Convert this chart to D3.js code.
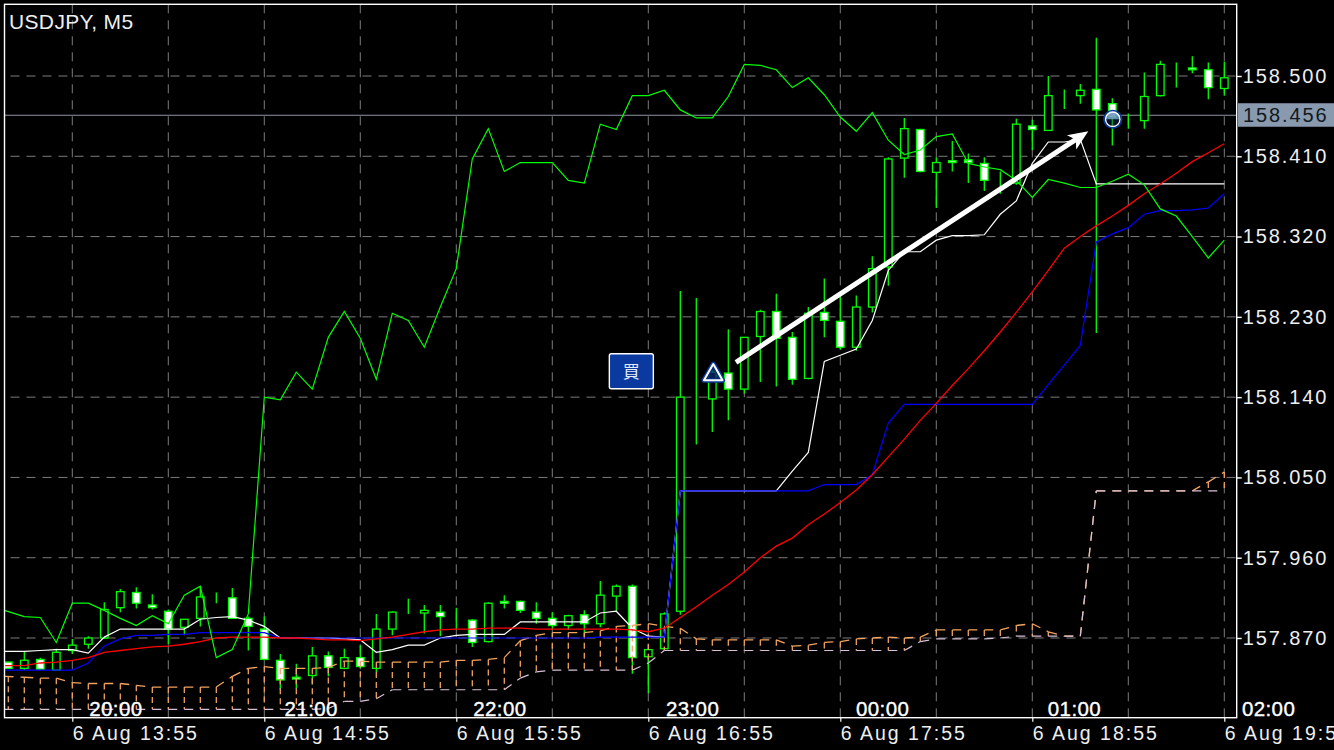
<!DOCTYPE html>
<html>
<head>
<meta charset="utf-8">
<script src="https://cdn.jsdelivr.net/npm/d3@7"></script>
<style>
html,body{margin:0;padding:0;background:#000;overflow:hidden}
svg{display:block}
text{font-family:"Liberation Sans",Arial,sans-serif}
</style>
</head>
<body>
<svg id="chart" width="1334" height="750"></svg>
<script>
const title = "USDJPY, M5";
const buyLabel = "買";
const lastPrice = 158.456;

const yTicks = [157.87,157.96,158.05,158.14,158.23,158.32,158.41,158.5];
const xGridIdx = [4,10,16,22,28,34,40,46,52,58,64,70,76];
const xTickIdx = [4,16,28,40,52,64,76];
const xTickLabels = ["6 Aug 13:55","6 Aug 14:55","6 Aug 15:55","6 Aug 16:55","6 Aug 17:55","6 Aug 18:55","6 Aug 19:55"];
const hourLabels = ["20:00","21:00","22:00","23:00","00:00","01:00","02:00"];
const hourIdx = [5.06,17.27,29.06,41.1,52.98,64.97,77.1];

const open = [157.843,157.836,157.846,157.834,157.856,157.863,157.870,157.904,157.921,157.907,157.900,157.882,157.892,157.914,157.915,157.892,157.880,157.845,157.826,157.828,157.850,157.836,157.848,157.836,157.880,157.898,157.898,157.899,157.893,157.890,157.866,157.911,157.911,157.899,157.892,157.884,157.896,157.886,157.917,157.928,157.849,157.858,157.900,158.137,158.138,158.167,158.149,158.208,158.236,158.207,158.161,158.235,158.225,158.196,158.241,158.286,158.408,158.440,158.392,158.405,158.406,158.402,158.380,158.380,158.444,158.439,158.478,158.478,158.485,158.469,158.453,158.450,158.478,158.512,158.509,158.507,158.486];
const high = [157.843,157.855,157.848,157.858,157.869,157.872,157.910,157.925,157.927,157.919,157.902,157.891,157.928,157.921,157.926,157.894,157.894,157.852,157.841,157.860,157.855,157.858,157.862,157.897,157.900,157.914,157.907,157.907,157.904,157.891,157.910,157.918,157.912,157.910,157.899,157.896,157.901,157.934,157.930,157.930,157.858,157.899,158.259,158.251,158.176,158.216,158.207,158.238,158.256,158.213,158.241,158.273,158.253,158.254,158.298,158.409,158.453,158.441,158.409,158.427,158.413,158.409,158.393,158.452,158.451,158.500,158.485,158.491,158.543,158.475,158.458,158.504,158.517,158.515,158.522,158.515,158.516];
const low = [157.836,157.834,157.834,157.834,157.852,157.858,157.869,157.899,157.903,157.902,157.863,157.873,157.883,157.909,157.892,157.856,157.845,157.812,157.813,157.818,157.827,157.835,157.836,157.832,157.873,157.897,157.875,157.872,157.879,157.860,157.865,157.903,157.898,157.886,157.879,157.879,157.871,157.882,157.900,157.830,157.808,157.857,157.896,158.087,158.101,158.114,158.144,158.157,158.152,158.154,158.160,158.207,158.193,158.192,158.235,158.265,158.386,158.392,158.352,158.393,158.380,158.371,158.368,158.378,158.417,158.439,158.463,158.469,158.212,158.422,158.441,158.441,158.477,158.487,158.503,158.474,158.478];
const close = [157.836,157.845,157.835,157.854,157.862,157.870,157.902,157.922,157.909,157.904,157.880,157.891,157.916,157.914,157.892,157.883,157.846,157.823,157.824,157.850,157.837,157.848,157.838,157.880,157.899,157.898,157.901,157.894,157.893,157.865,157.909,157.909,157.901,157.892,157.884,157.895,157.886,157.918,157.928,157.848,157.857,157.897,158.140,158.137,158.168,158.149,158.207,158.236,158.206,158.160,158.234,158.226,158.196,158.241,158.284,158.407,158.441,158.393,158.403,158.403,158.403,158.383,158.380,158.446,158.440,158.478,158.478,158.484,158.462,158.453,158.453,158.477,158.513,158.512,158.507,158.487,158.498];

const chikou = [157.901,157.894,157.893,157.865,157.909,157.909,157.901,157.892,157.884,157.895,157.886,157.918,157.928,157.848,157.857,157.897,158.140,158.137,158.168,158.149,158.207,158.236,158.206,158.160,158.234,158.226,158.196,158.241,158.284,158.407,158.441,158.393,158.403,158.403,158.403,158.383,158.380,158.446,158.440,158.478,158.478,158.484,158.462,158.453,158.453,158.477,158.513,158.512,158.507,158.487,158.498,158.479,158.454,158.438,158.459,158.428,158.412,158.417,158.432,158.435,158.402,158.398,158.395,158.383,158.364,158.384,158.380,158.375,158.375,158.382,158.390,158.378,158.351,158.343,158.320,158.296,158.316];
const tenkan = [157.855,157.855,157.856,157.857,157.857,157.853,157.871,157.880,157.880,157.880,157.880,157.880,157.891,157.893,157.894,157.890,157.883,157.870,157.870,157.870,157.870,157.869,157.868,157.854,157.857,157.862,157.862,157.870,157.873,157.874,157.874,157.874,157.888,157.888,157.888,157.888,157.888,157.898,157.900,157.881,157.872,157.871,158.035,158.035,158.035,158.035,158.035,158.035,158.035,158.057,158.078,158.180,158.187,158.194,158.226,158.282,158.303,158.303,158.316,158.321,158.321,158.322,158.345,158.360,158.402,158.426,158.426,158.429,158.379,158.379,158.379,158.379,158.379,158.379,158.379,158.379,158.379];
const kijun = [157.834,157.834,157.834,157.834,157.834,157.842,157.861,157.869,157.873,157.873,157.874,157.874,157.876,157.876,157.876,157.876,157.876,157.870,157.870,157.870,157.870,157.870,157.870,157.870,157.870,157.870,157.870,157.870,157.870,157.870,157.870,157.870,157.870,157.870,157.870,157.870,157.870,157.871,157.871,157.871,157.871,157.871,158.035,158.035,158.035,158.035,158.035,158.035,158.035,158.035,158.035,158.042,158.042,158.042,158.053,158.111,158.132,158.132,158.132,158.132,158.132,158.132,158.132,158.132,158.132,158.154,158.176,158.198,158.314,158.323,158.330,158.345,158.349,158.349,158.350,158.352,158.368];
const movingAvg = [157.839,157.839,157.842,157.843,157.845,157.848,157.854,157.856,157.858,157.860,157.861,157.863,157.866,157.870,157.871,157.871,157.871,157.870,157.870,157.869,157.868,157.868,157.867,157.869,157.871,157.874,157.877,157.879,157.880,157.880,157.881,157.881,157.881,157.880,157.880,157.880,157.880,157.880,157.880,157.879,157.877,157.881,157.893,157.905,157.918,157.930,157.944,157.960,157.973,157.982,157.997,158.009,158.022,158.036,158.053,158.073,158.093,158.114,158.133,158.153,158.172,158.192,158.213,158.235,158.258,158.282,158.307,158.320,158.332,158.343,158.355,158.368,158.379,158.391,158.404,158.414,158.424];
const spanA = [157.827,157.826,157.825,157.825,157.820,157.819,157.819,157.819,157.817,157.815,157.815,157.815,157.815,157.815,157.827,157.836,157.838,157.836,157.836,157.836,157.837,157.844,157.844,157.843,157.843,157.843,157.843,157.843,157.845,157.845,157.846,157.848,157.867,157.873,157.876,157.876,157.876,157.878,157.883,157.884,157.886,157.883,157.881,157.869,157.868,157.868,157.868,157.868,157.868,157.861,157.862,157.865,157.866,157.869,157.870,157.871,157.870,157.871,157.879,157.879,157.879,157.879,157.879,157.884,157.886,157.877,157.872,157.872,158.035,158.035,158.035,158.035,158.035,158.035,158.035,158.045,158.056];
const spanB = [157.790,157.790,157.790,157.790,157.790,157.790,157.790,157.790,157.790,157.790,157.790,157.790,157.790,157.790,157.790,157.790,157.790,157.790,157.790,157.790,157.791,157.799,157.799,157.802,157.812,157.812,157.812,157.812,157.812,157.812,157.812,157.812,157.825,157.832,157.834,157.834,157.834,157.834,157.834,157.834,157.842,157.856,157.856,157.856,157.856,157.856,157.856,157.856,157.856,157.856,157.856,157.856,157.856,157.856,157.856,157.856,157.856,157.866,157.869,157.869,157.869,157.869,157.870,157.872,157.872,157.872,157.872,157.872,158.035,158.035,158.035,158.035,158.035,158.035,158.035,158.035,158.035];

const arrowFrom = {i:45.48, p:158.179};
const arrowTo = {i:67.5, p:158.438};
const entryMark = {i:44.06, p:158.165};
const exitMark = {i:69.03, p:158.4515};
const buyBadge = {i:38.94, p:158.169};

const COL = {bg:"#000", frame:"#ffffff", grid:"#7c7c7c", candle:"#00ff00", bearFill:"#ffffff", chikou:"#00ff00", tenkan:"#ffffff", kijun:"#0000ff", ma:"#ff0000", spanA:"#f4a460", spanB:"#d8bfd8", last:"#8d95a3", lastBox:"#8a9aae", text:"#efefef"};
const F = {left:4.5, top:4.3, right:1236.7, bottom:717.7};

const x = d3.scaleLinear().domain([0,76]).range([8.3,1224.3]);
const y = d3.scaleLinear().domain([157.87,158.5]).range([638,76]);

const svg = d3.select("#chart");
svg.append("rect").attr("width",1334).attr("height",750).attr("fill",COL.bg);
const defs = svg.append("defs");
defs.append("clipPath").attr("id","plot").append("rect")
  .attr("x",F.left).attr("y",F.top).attr("width",F.right-F.left).attr("height",F.bottom-F.top);
const plot = svg.append("g").attr("clip-path","url(#plot)");

// grid
plot.append("g").selectAll("line").data(yTicks).join("line")
  .attr("x1",F.left+6).attr("x2",F.right).attr("y1",d=>y(d)).attr("y2",d=>y(d))
  .attr("stroke",COL.grid).attr("stroke-dasharray","9,7");
plot.append("g").selectAll("line").data(xGridIdx).join("line")
  .attr("x1",d=>x(d)).attr("x2",d=>x(d)).attr("y1",F.top).attr("y2",F.bottom)
  .attr("stroke",COL.grid).attr("stroke-dasharray","9,7");

// last price line
plot.append("line").attr("x1",F.left).attr("x2",F.right).attr("y1",y(lastPrice)).attr("y2",y(lastPrice))
  .attr("stroke",COL.last).attr("stroke-width",1);

// candles
const idx = d3.range(open.length);
const cg = plot.append("g");
cg.selectAll("line").data(idx).join("line")
  .attr("x1",i=>x(i)).attr("x2",i=>x(i)).attr("y1",i=>y(high[i])).attr("y2",i=>y(low[i]))
  .attr("stroke",COL.candle).attr("stroke-width",1.3);
cg.selectAll("rect").data(idx).join("rect")
  .attr("x",i=>x(i)-3.8).attr("width",7.6)
  .attr("y",i=>y(Math.max(open[i],close[i])))
  .attr("height",i=>Math.abs(y(open[i])-y(close[i])))
  .attr("fill",i=>close[i]<open[i]?COL.bearFill:"#000")
  .attr("stroke",COL.candle).attr("stroke-width",1.3);

// cloud hatching
plot.append("g").selectAll("line").data(idx.filter(i=>spanA[i]!==spanB[i])).join("line")
  .attr("x1",i=>x(i)).attr("x2",i=>x(i)).attr("y1",i=>y(spanA[i])).attr("y2",i=>y(spanB[i]))
  .attr("stroke",COL.spanA).attr("stroke-width",1.3).attr("stroke-dasharray","6,4");

// lines
const line = d3.line().x((d,i)=>x(i===0?-0.24:i)).y(d=>y(d));
const addLine = (vals,color,w)=>plot.append("path").attr("d",line(vals)).attr("fill","none")
  .attr("stroke",color).attr("stroke-width",w);
// dashed spans: each bar-to-bar segment restarts the dash, so overlapping spans stay in phase
const addSegments = (vals,color,w)=>plot.append("g").selectAll("line").data(d3.pairs(idx)).join("line")
  .attr("x1",d=>x(d[0]===0?-0.24:d[0])).attr("x2",d=>x(d[1]))
  .attr("y1",d=>y(vals[d[0]])).attr("y2",d=>y(vals[d[1]]))
  .attr("stroke",color).attr("stroke-width",w).attr("stroke-dasharray","9,7");
addSegments(spanA,COL.spanA,1.3);
addSegments(spanB,COL.spanB,1.2);
addLine(tenkan,COL.tenkan,1.2);
addLine(kijun,COL.kijun,1.2);
addLine(movingAvg,COL.ma,1.3);
addLine(chikou,COL.chikou,1.2);

// hour labels inside the plot
svg.append("g").selectAll("text").data(hourLabels).join("text")
  .attr("x",(d,i)=>x(hourIdx[i])).attr("y",715.5)
  .attr("font-size",20.5).attr("letter-spacing",0.4)
  .attr("fill","#fff").attr("stroke","#fff").attr("stroke-width",0.35)
  .text(d=>d);

// arrow annotation
const ax0=x(arrowFrom.i), ay0=y(arrowFrom.p), ax1=x(arrowTo.i), ay1=y(arrowTo.p);
const ang=Math.atan2(ay1-ay0,ax1-ax0), deg=ang*180/Math.PI;
const len=Math.hypot(ax1-ax0,ay1-ay0);
const ag=svg.append("g").attr("transform",`translate(${ax0},${ay0}) rotate(${deg})`);
ag.append("line").attr("x1",0).attr("y1",0).attr("x2",len-12).attr("y2",0).attr("stroke","#fff").attr("stroke-width",5);
ag.append("path").attr("d",d3.line()([[len,0],[len-20,-8.5],[len-15,0],[len-20,8.5]])+"Z").attr("fill","#fff");

// entry triangle
const tri=d3.symbol(d3.symbolTriangle,150);
const tg=svg.append("g").attr("transform",`translate(${x(entryMark.i)},${y(entryMark.p)})`);
tg.append("path").attr("d",tri()).attr("fill","none").attr("stroke","#0a3a9e").attr("stroke-width",5).attr("stroke-linejoin","round");
tg.append("path").attr("d",tri()).attr("fill","rgba(10,40,110,.75)").attr("stroke","#fff").attr("stroke-width",2).attr("stroke-linejoin","round");

// exit circle
const cgx=svg.append("g").attr("transform",`translate(${x(exitMark.i)},${y(exitMark.p)})`);
cgx.append("circle").attr("r",7.3).attr("fill","rgba(10,40,90,.45)");
cgx.append("path").attr("d",d3.arc()({innerRadius:0,outerRadius:7.3,startAngle:-Math.PI/2,endAngle:Math.PI/2})).attr("fill","rgba(120,160,205,.8)");
cgx.append("circle").attr("r",7.3).attr("fill","none").attr("stroke","#fff").attr("stroke-width",1.5);
cgx.append("circle").attr("r",8.8).attr("fill","none").attr("stroke","#0a3a9e").attr("stroke-width",1.6);

// buy badge
const bb=svg.append("g").attr("transform",`translate(${x(buyBadge.i)},${y(buyBadge.p)})`);
bb.append("rect").attr("x",-22).attr("y",-17.5).attr("width",44).attr("height",35).attr("rx",2)
  .attr("fill","#0a399f").attr("stroke","#fff").attr("stroke-width",1.4);
bb.append("text").attr("text-anchor","middle").attr("y",6.5).attr("font-size",17)
  .style("font-family",'"Noto Sans CJK JP"').attr("fill","#e4eaf6").text(buyLabel);

// frame
svg.append("rect").attr("x",F.left).attr("y",F.top).attr("width",F.right-F.left).attr("height",F.bottom-F.top)
  .attr("fill","none").attr("stroke",COL.frame).attr("stroke-width",1.4);

// axes
const yAxis=d3.axisRight(y).tickValues(yTicks).tickFormat(d3.format(".3f")).tickSize(5).tickPadding(1);
const ya=svg.append("g").attr("transform",`translate(${F.right},0)`).call(yAxis);
ya.select(".domain").remove();
ya.selectAll("line").attr("stroke","#fff").attr("stroke-width",1.4);
ya.selectAll("text").attr("font-size",20).attr("letter-spacing",1.9).attr("fill",COL.text)
  .style("font-family",'"Liberation Sans"');

const xAxis=d3.axisBottom(x).tickValues(xTickIdx).tickFormat((d,i)=>xTickLabels[i]).tickSize(4);
const xa=svg.append("g").attr("transform",`translate(0,${F.bottom})`).call(xAxis);
xa.select(".domain").remove();
xa.selectAll("line").attr("stroke","#fff").attr("stroke-width",1.2);
xa.selectAll("text").attr("font-size",19.5).attr("letter-spacing",2).attr("fill",COL.text)
  .attr("text-anchor","start").attr("y",22.3).attr("dy",0)
  .style("font-family",'"Liberation Sans"');

// last price box
const lg=svg.append("g");
lg.append("rect").attr("x",1238).attr("y",y(lastPrice)-12).attr("width",96).attr("height",23.5).attr("fill",COL.lastBox);
lg.append("text").attr("x",1243).attr("y",y(lastPrice)+7.2).attr("font-size",20).attr("letter-spacing",1.9)
  .attr("fill","#101820").text(d3.format(".3f")(lastPrice));

// title
svg.append("text").attr("x",9).attr("y",29).attr("font-size",21).attr("letter-spacing",0.35).attr("fill",COL.text).text(title);
</script>
</body>
</html>
